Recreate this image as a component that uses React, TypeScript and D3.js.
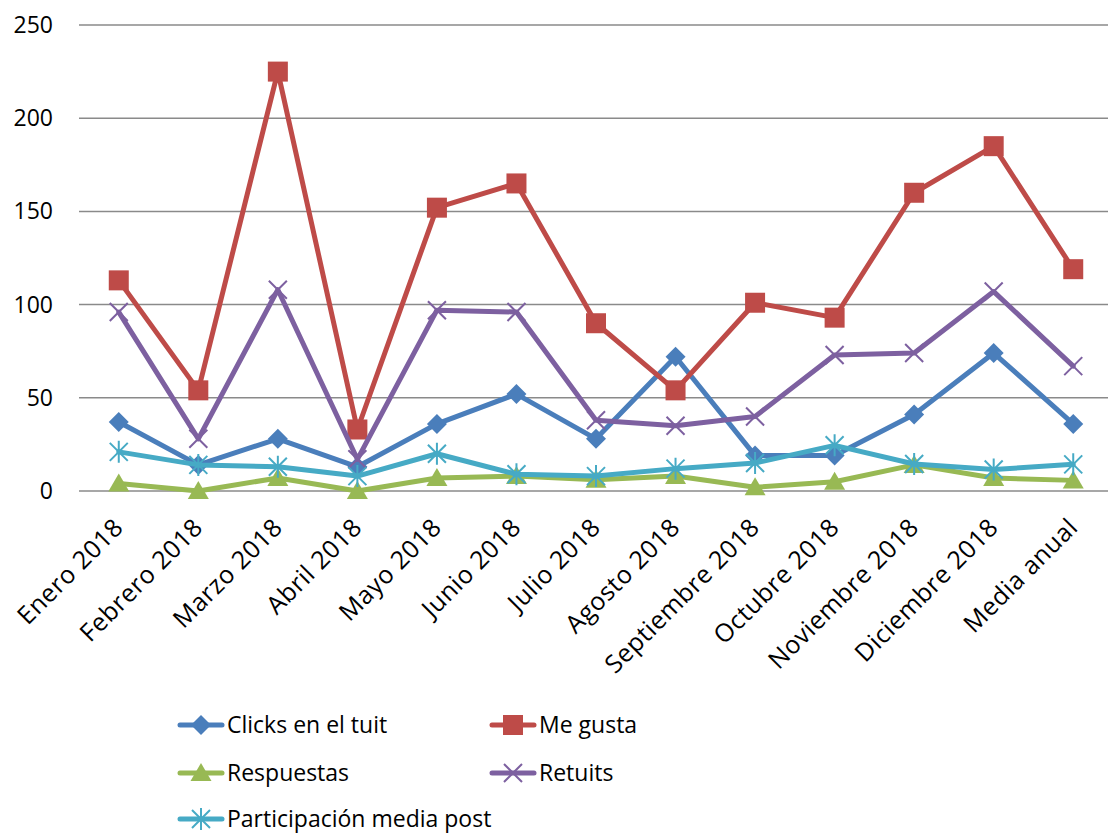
import React from "react";
import * as d3 from "d3";

const categories = [
  "Enero 2018", "Febrero 2018", "Marzo 2018", "Abril 2018", "Mayo 2018", "Junio 2018",
  "Julio 2018", "Agosto 2018", "Septiembre 2018", "Octubre 2018", "Noviembre 2018",
  "Diciembre 2018", "Media anual",
];

const clicks = [37, 14, 28, 13, 36, 52, 28, 72, 19, 19, 41, 74, 36];
const meGusta = [113, 54, 225, 33, 152, 165, 90, 54, 101, 93, 160, 185, 119];
const respuestas = [4, 0, 7, 0, 7, 8, 6, 8, 2, 5, 14, 7, 5.7];
const retuits = [96, 28, 108, 17, 97, 96, 38, 35, 40, 73, 74, 107, 67];
const participacion = [21, 14, 13, 8, 20, 9, 8, 12, 15, 24.5, 14.5, 11.5, 14.3];

const yTicks = [0, 50, 100, 150, 200, 250];

type MarkerKind = "diamond" | "square" | "triangle" | "x" | "star";

const seriesList: { name: string; values: number[]; color: string; marker: MarkerKind }[] = [
  { name: "Clicks en el tuit", values: clicks, color: "#4a7ebb", marker: "diamond" },
  { name: "Me gusta", values: meGusta, color: "#be4b48", marker: "square" },
  { name: "Respuestas", values: respuestas, color: "#98b954", marker: "triangle" },
  { name: "Retuits", values: retuits, color: "#7d60a0", marker: "x" },
  { name: "Participación media post", values: participacion, color: "#46aac5", marker: "star" },
];

const FONT = "'Open Sans', 'DejaVu Sans', sans-serif";

function Marker({ kind, x, y, color }: { kind: MarkerKind; x: number; y: number; color: string }) {
  switch (kind) {
    case "diamond":
      return <path d={`M${x},${y - 10}L${x + 10},${y}L${x},${y + 10}L${x - 10},${y}Z`} fill={color} />;
    case "square":
      return <rect x={x - 10} y={y - 10} width={20} height={20} fill={color} />;
    case "triangle":
      return <path d={`M${x},${y - 10}L${x + 10.5},${y + 8}L${x - 10.5},${y + 8}Z`} fill={color} />;
    case "x":
      return (
        <path
          d={`M${x - 9},${y - 9}L${x + 9},${y + 9}M${x - 9},${y + 9}L${x + 9},${y - 9}`}
          stroke={color}
          strokeWidth={2}
          fill="none"
        />
      );
    case "star":
      return (
        <path
          d={`M${x - 9},${y - 9}L${x + 9},${y + 9}M${x - 9},${y + 9}L${x + 9},${y - 9}M${x},${y - 11}L${x},${y + 11}`}
          stroke={color}
          strokeWidth={2}
          fill="none"
        />
      );
  }
}

export default function App() {
  const width = 1108;
  const height = 833;
  const plotLeft = 79;
  const plotRight = 1113;
  const plotTop = 25;
  const plotBottom = 491;

  const x = d3.scalePoint<string>().domain(categories).range([plotLeft, plotRight]).padding(0.5);
  const y = d3.scaleLinear().domain([0, 250]).range([plotBottom, plotTop]);

  const line = d3
    .line<number>()
    .x((_, i) => x(categories[i]) as number)
    .y((d) => y(d));

  const legendItems = [
    { s: seriesList[0], lx: 185, ly: 725 },
    { s: seriesList[1], lx: 497, ly: 725 },
    { s: seriesList[2], lx: 185, ly: 773 },
    { s: seriesList[3], lx: 497, ly: 773 },
    { s: seriesList[4], lx: 185, ly: 819 },
  ];

  return (
    <svg
      width={width}
      height={height}
      style={{ position: "absolute", left: 0, top: 0, background: "#fff" }}
      fontFamily={FONT}
    >
      {/* horizontal gridlines and y-axis labels */}
      {yTicks.map((t) => (
        <g key={t}>
          <line x1={plotLeft} x2={width} y1={y(t)} y2={y(t)} stroke="#8a8a8a" strokeWidth={1.5} />
          <text x={53} y={y(t)} dy="0.35em" textAnchor="end" fontSize={23} fill="#000">
            {t}
          </text>
        </g>
      ))}

      {/* category labels, rotated */}
      {categories.map((c) => (
        <text
          key={c}
          transform={`translate(${(x(c) as number) + 6},${plotBottom + 38}) rotate(-45)`}
          textAnchor="end"
          fontSize={25}
          letterSpacing={0.5}
          fill="#000"
        >
          {c}
        </text>
      ))}

      {/* series lines and markers */}
      {seriesList.map((s) => (
        <g key={s.name}>
          <path
            d={line(s.values) ?? ""}
            fill="none"
            stroke={s.color}
            strokeWidth={5}
            strokeLinejoin="round"
            strokeLinecap="round"
          />
          {s.values.map((v, i) => (
            <Marker key={i} kind={s.marker} x={x(categories[i]) as number} y={y(v)} color={s.color} />
          ))}
        </g>
      ))}

      {/* legend */}
      {legendItems.map(({ s, lx, ly }) => (
        <g key={s.name}>
          <line x1={lx - 5} x2={lx + 37} y1={ly} y2={ly} stroke={s.color} strokeWidth={5} strokeLinecap="round" />
          <Marker kind={s.marker} x={lx + 16} y={ly} color={s.color} />
          <text x={lx + 42} y={ly} dy="0.35em" fontSize={23} fill="#000">
            {s.name}
          </text>
        </g>
      ))}
    </svg>
  );
}
